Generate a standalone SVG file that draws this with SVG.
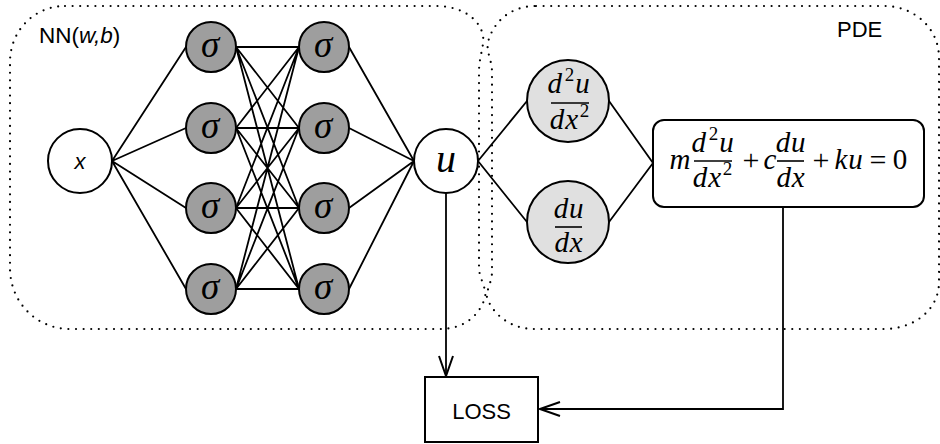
<svg xmlns="http://www.w3.org/2000/svg" width="940" height="444" viewBox="0 0 940 444">
  <defs>
    <style>
      .region { fill: none; stroke: #000; stroke-width: 2.2; stroke-dasharray: 0 7.6; stroke-linecap: round; }
      .edge { fill: none; stroke: #000; stroke-width: 1.8; }
      .node { stroke: #000; stroke-width: 2; }
      .plain { fill: #fff; }
      .act { fill: #9e9e9e; }
      .deriv { fill: #e0e0e0; }
      .sans { font-family: "Liberation Sans", Arial, sans-serif; fill: #000; }
      .math { font-family: "Liberation Serif", "Times New Roman", serif; font-style: italic; fill: #000; }
      .frac { font-size: 29px; letter-spacing: 0.8px; }
      .sup { font-style: normal; font-size: 19px; }
      .rm { font-style: normal; }
      .bar { stroke: #000; stroke-width: 1.6; }
    </style>
    <marker id="arrow" markerUnits="userSpaceOnUse" viewBox="0 0 22 16" refX="21" refY="8" markerWidth="22" markerHeight="16" orient="auto">
      <path d="M1,1 L21,8 L1,15" fill="none" stroke="#000" stroke-width="2"/>
    </marker>
  </defs>

  <!-- dotted regions -->
  <g id="region-nn">
    <path class="region" d="M65,6 H436 C466,6 486,24 483,44 C481,56 479,62 479,72 V268 C479,278 487,288 485,298 C478,318 462,329 440,329 H70 C36,329 10,302 10,268 V62 C10,31 34,6 65,6 Z"/>
    <text class="sans" x="39" y="43" font-size="22.5">NN(<tspan font-style="italic">w,b</tspan>)</text>
  </g>
  <g id="region-pde">
    <path class="region" d="M536,6 H884 C914,6 939,28 939,58 V282 C939,310 914,329 884,329 H534 C512,329 494,316 487,298 C486,290 492,282 492,272 V72 C492,60 486,52 488,42 C494,20 512,6 536,6 Z"/>
    <text class="sans" x="837" y="37" font-size="22">PDE</text>
  </g>

  <!-- connectors -->
  <g id="connectors">
    <!-- input to first hidden layer -->
    <path class="edge" d="M112,161 L186,47 M112,161 L186,128 M112,161 L186,208 M112,161 L186,289"/>
    <!-- first hidden layer to second hidden layer -->
    <path class="edge" d="M236,47 L299,47 M236,47 L299,128 M236,47 L299,208 M236,47 L299,289
                          M236,128 L299,47 M236,128 L299,128 M236,128 L299,208 M236,128 L299,289
                          M236,208 L299,47 M236,208 L299,128 M236,208 L299,208 M236,208 L299,289
                          M236,289 L299,47 M236,289 L299,128 M236,289 L299,208 M236,289 L299,289"/>
    <!-- second hidden layer to output -->
    <path class="edge" d="M349,47 L414,161 M349,128 L414,161 M349,208 L414,161 M349,289 L414,161"/>
    <!-- output to derivatives -->
    <path class="edge" d="M478,161 L527,101 M478,161 L527,222"/>
    <!-- derivatives to equation -->
    <path class="edge" d="M609,101 L653,163 M609,222 L653,163"/>
    <!-- to loss -->
    <path class="edge" d="M446,193 V376" marker-end="url(#arrow)"/>
    <path class="edge" d="M783,207 V409 H540" marker-end="url(#arrow)"/>
  </g>

  <!-- input -->
  <g id="node-x">
    <circle class="node plain" cx="80" cy="161" r="32"/>
    <text class="sans" x="80" y="169" font-size="22" font-style="italic" text-anchor="middle">x</text>
  </g>

  <!-- first hidden layer -->
  <g id="node-h1-1">
    <circle class="node act" cx="211" cy="47" r="25"/>
    <text class="math" x="210" y="57" font-size="37" text-anchor="middle">σ</text>
  </g>
  <g id="node-h1-2">
    <circle class="node act" cx="211" cy="128" r="25"/>
    <text class="math" x="210" y="138" font-size="37" text-anchor="middle">σ</text>
  </g>
  <g id="node-h1-3">
    <circle class="node act" cx="211" cy="208" r="25"/>
    <text class="math" x="210" y="218" font-size="37" text-anchor="middle">σ</text>
  </g>
  <g id="node-h1-4">
    <circle class="node act" cx="211" cy="289" r="25"/>
    <text class="math" x="210" y="299" font-size="37" text-anchor="middle">σ</text>
  </g>

  <!-- second hidden layer -->
  <g id="node-h2-1">
    <circle class="node act" cx="324" cy="47" r="25"/>
    <text class="math" x="323" y="57" font-size="37" text-anchor="middle">σ</text>
  </g>
  <g id="node-h2-2">
    <circle class="node act" cx="324" cy="128" r="25"/>
    <text class="math" x="323" y="138" font-size="37" text-anchor="middle">σ</text>
  </g>
  <g id="node-h2-3">
    <circle class="node act" cx="324" cy="208" r="25"/>
    <text class="math" x="323" y="218" font-size="37" text-anchor="middle">σ</text>
  </g>
  <g id="node-h2-4">
    <circle class="node act" cx="324" cy="289" r="25"/>
    <text class="math" x="323" y="299" font-size="37" text-anchor="middle">σ</text>
  </g>

  <!-- network output -->
  <g id="node-u">
    <circle class="node plain" cx="446" cy="161" r="32"/>
    <text class="math" x="446" y="172" font-size="40" text-anchor="middle">u</text>
  </g>

  <!-- second derivative -->
  <g id="node-d2u">
    <circle class="node deriv" cx="568" cy="101" r="41"/>
    <text class="math frac" x="569" y="93" text-anchor="middle">d<tspan class="sup" dx="2" dy="-12">2</tspan><tspan dy="12">u</tspan></text>
    <line class="bar" x1="551" y1="103" x2="589" y2="103"/>
    <text class="math frac" x="570" y="129" text-anchor="middle">dx<tspan class="sup" dx="1" dy="-12">2</tspan></text>
  </g>

  <!-- first derivative -->
  <g id="node-du">
    <circle class="node deriv" cx="568" cy="222" r="41"/>
    <text class="math frac" x="569" y="218" text-anchor="middle">du</text>
    <line class="bar" x1="555" y1="227" x2="582" y2="227"/>
    <text class="math frac" x="569" y="252" text-anchor="middle">dx</text>
  </g>

  <!-- governing equation -->
  <g id="node-pde">
    <rect class="node plain" x="653" y="120" width="271" height="87" rx="11"/>
    <text class="math" x="680" y="169" font-size="29" text-anchor="middle">m</text>
    <text class="math frac" x="713" y="152" text-anchor="middle">d<tspan class="sup" dx="2" dy="-12">2</tspan><tspan dy="12">u</tspan></text>
    <line class="bar" x1="694" y1="161" x2="732" y2="161"/>
    <text class="math frac" x="713" y="187" text-anchor="middle">dx<tspan class="sup" dx="1" dy="-12">2</tspan></text>
    <text class="math rm" x="751" y="170" font-size="30" text-anchor="middle">+</text>
    <text class="math" x="770" y="169" font-size="29" text-anchor="middle">c</text>
    <text class="math frac" x="791" y="152" text-anchor="middle">du</text>
    <line class="bar" x1="777" y1="161" x2="804" y2="161"/>
    <text class="math frac" x="791" y="187" text-anchor="middle">dx</text>
    <text class="math rm" x="821" y="170" font-size="30" text-anchor="middle">+</text>
    <text class="math" x="849" y="169" font-size="29" letter-spacing="0.8" text-anchor="middle">ku</text>
    <text class="math rm" x="878" y="170" font-size="30" text-anchor="middle">=</text>
    <text class="math rm" x="900" y="169" font-size="29" text-anchor="middle">0</text>
  </g>

  <!-- loss -->
  <g id="node-loss">
    <rect class="node plain" x="425" y="377" width="113" height="65"/>
    <text class="sans" x="481.5" y="419" font-size="22" text-anchor="middle">LOSS</text>
  </g>
</svg>
